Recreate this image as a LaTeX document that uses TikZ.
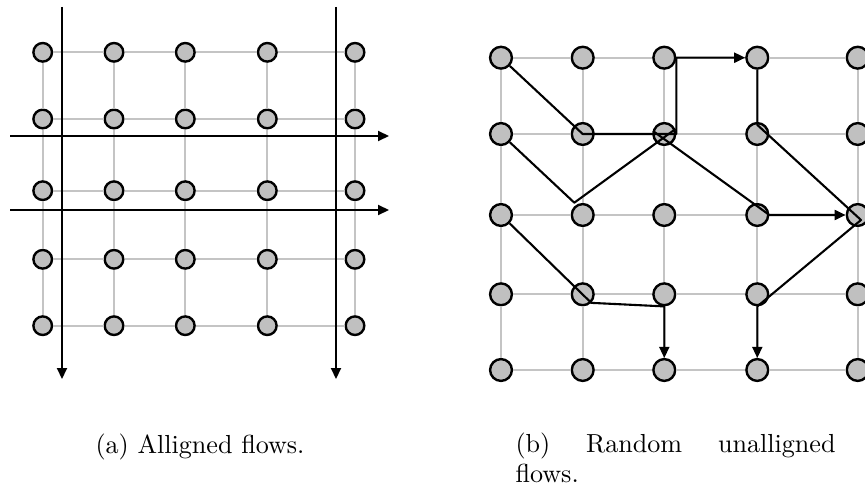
\documentclass[tikz,border=0pt]{standalone}
\usetikzlibrary{arrows.meta,calc}
\definecolor{gridgray}{HTML}{C4C4C4}
\definecolor{dotgray}{HTML}{C0C0C0}
\begin{document}
\begin{tikzpicture}[x=1pt,y=-1pt,
  grid/.style={draw=gridgray, line width=2pt},
  dot/.style={circle, draw=black, fill=dotgray, line width=2.4pt, inner sep=0pt},
  smalldot/.style={dot, minimum size=18.6pt},
  bigdot/.style={dot, minimum size=21.8pt},
  flow/.style={draw=black, line width=2.1pt, line join=round},
  tip/.style={-{Triangle[length=11pt,width=10pt]}},
  caption/.style={inner sep=0pt, scale=2.61, font=\fontsize{10}{11.5}\selectfont}
]
\useasboundingbox (0,0) rectangle (865,487);
\clip (0,0) rectangle (865,487);

% ---------- (a) aligned flows ----------
\foreach \c/\x in {0/42.7,1/114,2/185.3,3/267.3,4/355}
  \foreach \r/\y in {0/52.3,1/119,2/190.7,3/259.3,4/325.7}
    \node[smalldot] (a\c\r) at (\x,\y) {};
\foreach \i/\j in {0/1,1/2,2/3,3/4}
  \foreach \k in {0,...,4} {
    \draw[grid] (a\k\i) -- (a\k\j);
    \draw[grid] (a\i\k) -- (a\j\k);
  }

\coordinate (v1s) at (62,7);   \coordinate (v1e) at (62,379);
\coordinate (v2s) at (336,7);  \coordinate (v2e) at (336,379);
\coordinate (h1s) at (10,136); \coordinate (h1e) at (389,136);
\coordinate (h2s) at (10,210); \coordinate (h2e) at (389,210);
\draw[flow,tip] (v1s) -- (v1e);
\draw[flow,tip] (v2s) -- (v2e);
\draw[flow,tip] (h1s) -- (h1e);
\draw[flow,tip] (h2s) -- (h2e);

% ---------- (b) random unaligned flows ----------
\foreach \c/\x in {0/501,1/582.7,2/664.3,3/757.3,4/857.7}
  \foreach \r/\y in {0/57.7,1/134,2/215,3/294.3,4/370}
    \node[bigdot] (b\c\r) at (\x,\y) {};
\foreach \i/\j in {0/1,1/2,2/3,3/4}
  \foreach \k in {0,...,4} {
    \draw[grid] (b\k\i) -- (b\k\j);
    \draw[grid] (b\i\k) -- (b\j\k);
  }

\coordinate (k1) at (574.3,202.7);
\coordinate (k2) at (675.5,129);
\coordinate (k3) at (653,131);
\coordinate (k4) at (861,220);

\draw[flow,tip] (b00) -- (b11.center) -- (b21.east) |- (b30.west);
\draw[flow] (b01) -- (k1) -- (k2);
\draw[flow,tip] (k3) -- (b32.east) -- (b42.west);
\draw[flow,tip] (b02) -- (b13.south east) -- (b23.south) -- (b24.north);
\draw[flow,tip] (b30) -- ($(b31.north)+(0,3)$) -- (k4) -- (b33.south) -- (b34.north);

% ---------- captions ----------
\node[caption, anchor=base] (capa) at (200,453) {(a) Alligned flows.};
\node[caption, anchor=base west] (capb) at (515,452)
  {\parbox[t]{122.6pt}{\hyphenpenalty=10000\tolerance=10000\hbadness=10000
   (b) Random unalligned flows.}};
\end{tikzpicture}
\end{document}
